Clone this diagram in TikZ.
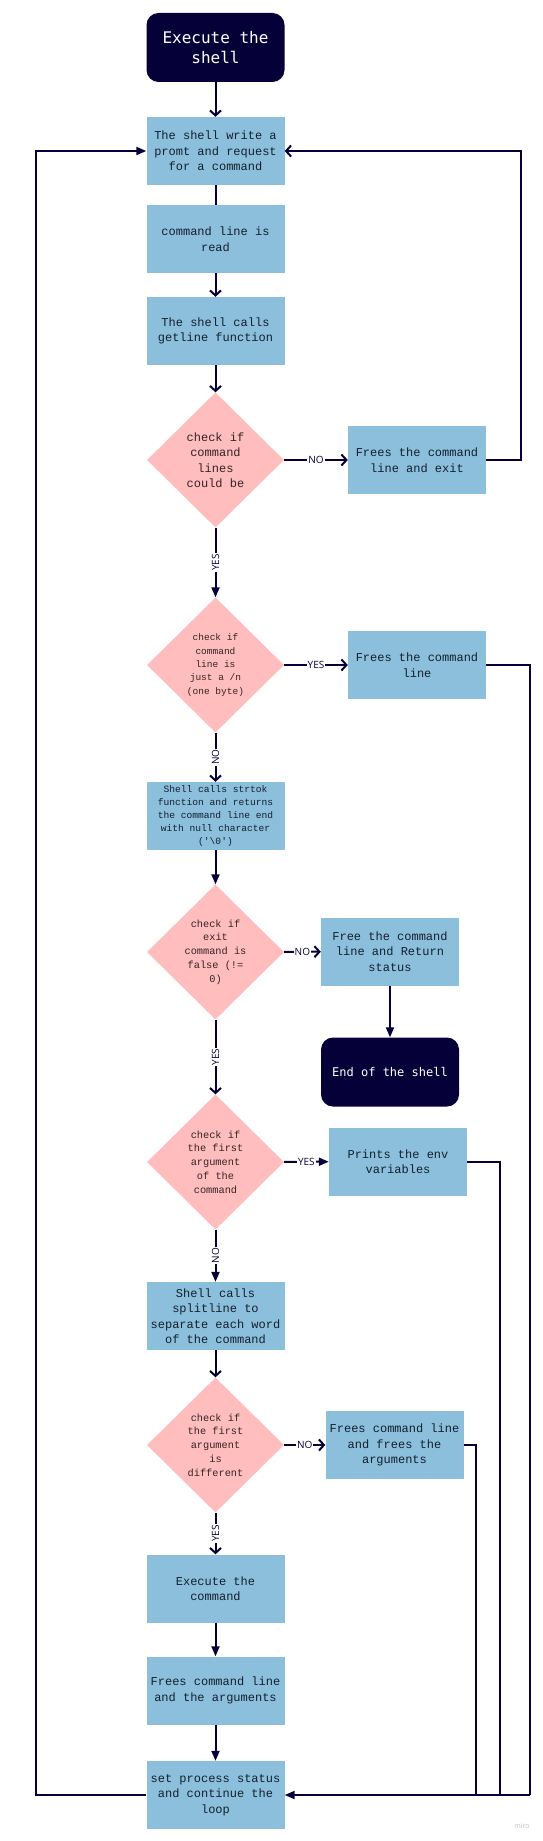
\documentclass[tikz,border=0pt]{standalone}
\usepackage{fontspec}
\usepackage{xcolor}
\usetikzlibrary{arrows.meta,shapes.geometric}

\newfontfamily\boxfont{Liberation Mono}
\newfontfamily\termfont{DejaVu Sans Mono}
\newfontfamily\labfont{Open Sans}

\definecolor{navy}{HTML}{050038}
\definecolor{boxblue}{HTML}{8BBFDC}
\definecolor{rose}{HTML}{FFBDBD}
\definecolor{boxtext}{HTML}{14202E}
\definecolor{rosetext}{HTML}{352424}

\begin{document}
\begin{tikzpicture}[x=1pt,y=-1pt]
\tikzstyle{term}=[rounded corners=12pt,fill=navy,text=white,align=center,minimum width=138pt,minimum height=69pt,inner sep=2pt]
\tikzstyle{box}=[fill=boxblue,text=boxtext,align=center,minimum width=138pt,minimum height=68pt,inner sep=2pt,font=\boxfont\fontsize{12}{15.5}\selectfont]
\tikzstyle{test}=[diamond,fill=rose,text=rosetext,align=center,minimum width=137pt,minimum height=135pt,inner sep=0pt,font=\boxfont\fontsize{10.3}{13.7}\selectfont]
\tikzstyle{ln}=[draw=navy,line width=2pt]
\tikzstyle{op}=[ln,-{Straight Barb[length=5pt,width=11pt]}]
\tikzstyle{tri}=[ln,-{Triangle[length=10pt,width=8pt]}]
\tikzstyle{lab}=[fill=white,text=navy,inner sep=1pt,font=\labfont\fontsize{10}{10}\selectfont]
\useasboundingbox (0,0) rectangle (543,1841);

\node (1) at (215.5,47.5) [term,font=\termfont\fontsize{16}{20}\selectfont]{Execute the\\shell};
\node (2) at (215.5,151) [box]{The shell write a\\promt and request\\for a command};
\node (3) at (215.5,239) [box]{command line is\\read};
\node (4) at (215.5,331) [box]{The shell calls\\getline function};
\node (5) at (215.5,460) [test,font=\boxfont\fontsize{12}{15.5}\selectfont]{check if\\command\\lines\\could be};
\node (6) at (417,460) [box]{Frees the command\\line and exit};
\node (7) at (215.5,665) [test,font=\boxfont\fontsize{9.5}{13.3}\selectfont]{check if\\command\\line is\\just a /n\\(one byte)};
\node (8) at (417,665) [box]{Frees the command\\line};
\node (9) at (215.5,816) [box,font=\boxfont\fontsize{9.6}{12.8}\selectfont]{Shell calls strtok\\function and returns\\the command line end\\with null character\\(\textquotesingle\textbackslash 0\textquotesingle)};
\node (10) at (215.5,952) [test]{check if\\exit\\command is\\false (!=\\0)};
\node (11) at (390,951.5) [box]{Free the command\\line and Return\\status};
\node (12) at (390,1072) [term,font=\termfont\fontsize{12}{15}\selectfont]{End of the shell};
\node (13) at (215.5,1162) [test]{check if\\the first\\argument\\of the\\command};
\node (14) at (398,1161.5) [box]{Prints the env\\variables};
\node (15) at (215.5,1316) [box]{Shell calls\\splitline to\\separate each word\\of the command};
\node (16) at (215.5,1445) [test]{check if\\the first\\argument\\is\\different};
\node (17) at (394.5,1445) [box]{Frees command line\\and frees the\\arguments};
\node (18) at (215.5,1588.5) [box]{Execute the\\command};
\node (19) at (215.5,1690.5) [box]{Frees command line\\and the arguments};
\node (20) at (215.5,1795) [box]{set process status\\and continue the\\loop};
\node (21) at (522,1826) [text=black!25,font=\labfont\fontsize{7}{7}\selectfont]{miro};

\coordinate (a) at (521,151);
\coordinate (b) at (36,151);
\coordinate (c) at (530,1795);
\coordinate (d) at (500,1795);
\coordinate (e) at (476,1795);

\draw[op] (1) -- (2);
\draw[ln] (2) -- (3);
\draw[op] (3) -- (4);
\draw[op] (4) -- (5);
\draw[op] (5) -- node[lab]{NO} (6);
\draw[op] (6) -| (a) -- (2);
\draw[tri] (20) -| (b) -- (2);
\draw[tri] (5) -- node[lab,rotate=90]{YES} (7);
\draw[op] (7) -- node[lab]{YES} (8);
\draw[op] (7) -- node[lab,rotate=90]{NO} (9);
\draw[tri] (9) -- (10);
\draw[op] (10) -- node[lab]{NO} (11);
\draw[tri] (11) -- (12);
\draw[op] (10) -- node[lab,rotate=90]{YES} (13);
\draw[tri] (13) -- node[lab]{YES} (14);
\draw[tri] (13) -- node[lab,rotate=90]{NO} (15);
\draw[op] (15) -- (16);
\draw[op] (16) -- node[lab]{NO} (17);
\draw[op] (16) -- node[lab,rotate=90]{YES} (18);
\draw[tri] (18) -- (19);
\draw[tri] (19) -- (20);
\draw[ln] (8) -| (c);
\draw[ln] (14) -| (d);
\draw[ln] (17) -| (e);
\draw[tri] (c) -- (20);
\end{tikzpicture}
\end{document}
